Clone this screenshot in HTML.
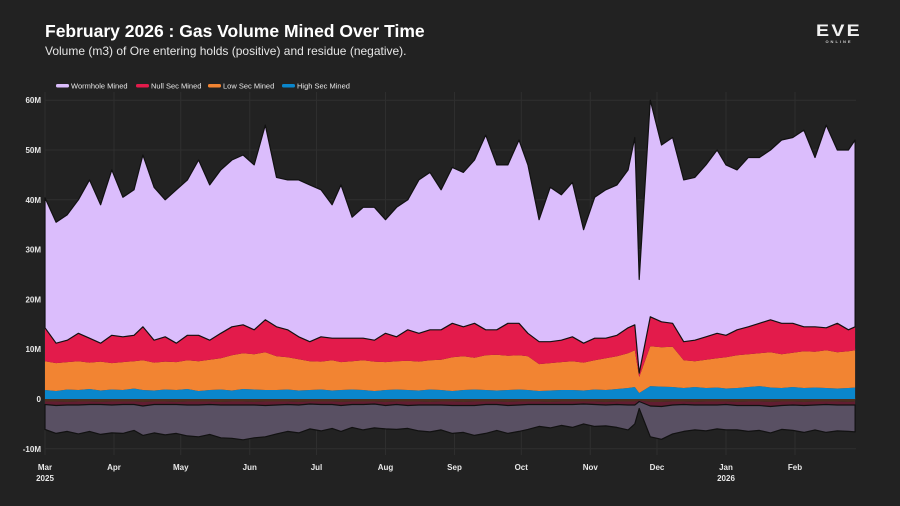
<!DOCTYPE html>
<html><head><meta charset="utf-8">
<style>
html,body{margin:0;padding:0;background:#222222;}
body{width:900px;height:506px;overflow:hidden;font-family:"Liberation Sans",sans-serif;}
#chart{position:absolute;left:0;top:0;}
</style></head>
<body>
<svg id="chart" width="900" height="506" xmlns="http://www.w3.org/2000/svg">
  <rect x="0" y="0" width="900" height="506" fill="#222222"/>
  <text x="45" y="37" fill="#ffffff" font-size="17.5" font-weight="bold">February 2026 : Gas Volume Mined Over Time</text>
  <text x="45" y="55" fill="#e6e6e6" font-size="12">Volume (m3) of Ore entering holds (positive) and residue (negative).</text>
  <g>
    <text x="839" y="36" fill="#f2f2f2" font-size="17" font-weight="bold" text-anchor="middle" letter-spacing="2" transform="scale(1.15,1)" transform-origin="839 30">EVE</text>
    <text x="839" y="43" fill="#cfcfcf" font-size="4" font-weight="bold" text-anchor="middle" letter-spacing="2">ONLINE</text>
  </g>
  <g id="grid"></g>
  <g id="areas"></g>
  <g id="axes"></g>
  <g id="legend"></g>
</svg>
<script>
// day offsets from 1 Mar 2025
const days = [0,5,10,15,20,25,30,35,40,44,49,54,59,64,69,74,79,84,89,94,99,104,109,114,119,124,129,133,138,143,148,153,158,163,168,173,178,183,188,193,198,203,208,213,217,222,227,232,237,242,247,252,257,262,265,267,272,277,282,287,292,297,302,306,311,316,321,326,331,336,341,346,351,356,361,364];
// positive series (millions m3)
const highSec = [1.8,1.6,1.9,1.8,2.0,1.7,1.9,1.8,2.1,1.8,1.7,1.9,1.8,2.0,1.6,1.8,1.9,1.7,2.0,1.9,1.8,1.8,1.9,1.7,1.8,1.9,1.7,1.8,1.9,1.8,1.6,1.8,1.9,1.8,1.7,1.9,1.8,1.6,1.8,1.9,1.8,1.7,1.8,1.9,1.8,1.6,1.7,1.8,1.8,1.7,1.9,1.8,2.0,2.2,2.4,1.2,2.6,2.5,2.4,2.2,2.4,2.2,2.3,2.1,2.2,2.4,2.6,2.3,2.2,2.4,2.2,2.3,2.2,2.1,2.2,2.3];
const lowSec = [5.8,5.6,5.5,5.8,5.3,5.8,5.3,5.6,5.5,6.0,5.6,5.6,5.6,5.8,6.0,6.1,6.3,7.1,7.2,7.1,7.6,6.8,6.5,6.3,5.8,5.6,6.1,5.6,5.7,6.0,5.9,5.6,5.7,5.9,5.8,5.9,6.1,6.8,6.8,6.4,7.0,7.2,6.9,6.9,6.8,5.4,5.5,5.6,5.8,5.6,5.9,6.4,6.6,7.0,7.4,3.2,8.0,7.9,8.1,5.6,5.2,5.7,5.9,6.3,6.6,6.6,6.6,7.1,6.8,6.9,7.4,7.2,7.6,7.3,7.4,7.5];
const nullSec = [6.7,4.0,4.4,5.6,4.9,3.7,5.6,5.1,5.2,6.7,4.5,5.0,3.8,5.0,5.2,3.9,5.0,5.7,5.7,4.9,6.5,5.9,5.5,4.5,3.9,5.0,4.4,4.8,4.6,4.4,4.3,5.8,4.9,6.2,5.7,6.1,6.0,6.8,5.9,6.9,5.1,5.0,6.5,6.4,4.6,4.5,4.3,4.4,4.9,3.9,4.4,4.0,4.2,5.1,5.1,0.8,5.9,5.1,4.7,3.7,4.2,4.6,5.0,4.4,5.1,5.5,6.0,6.5,6.2,5.9,4.9,5.0,4.5,5.8,4.3,4.7];
const wormhole = [26.1,24.3,25.2,26.8,31.8,27.8,33.2,28.0,29.2,34.5,30.7,27.5,30.8,31.2,35.2,31.2,32.8,33.5,34.1,33.1,39.1,30.0,30.1,31.5,31.5,29.5,26.8,30.8,24.3,26.3,26.7,22.8,26.0,26.1,30.8,31.6,28.1,31.3,31.0,32.8,39.1,33.1,31.8,36.8,33.8,24.5,31.0,29.2,31.0,22.8,28.3,29.8,30.2,31.7,37.6,18.8,43.5,35.5,37.3,32.5,32.7,34.5,36.8,34.2,32.1,34.0,33.3,34.1,36.8,37.3,39.5,34.0,40.7,34.8,36.1,37.5];
// negative residue series (millions m3, magnitudes)
const lowResidue = [0.5,0.5,0.6,0.5,0.5,0.6,0.5,0.5,0.5,0.6,0.5,0.5,0.6,0.5,0.5,0.5,0.6,0.5,0.5,0.6,0.5,0.5,0.5,0.6,0.5,0.5,0.5,0.6,0.5,0.5,0.5,0.6,0.5,0.5,0.5,0.6,0.5,0.5,0.6,0.5,0.5,0.5,0.6,0.5,0.5,0.5,0.6,0.5,0.5,0.5,0.5,0.6,0.5,0.5,0.5,0.3,0.6,0.6,0.5,0.5,0.6,0.5,0.5,0.5,0.6,0.5,0.5,0.6,0.5,0.5,0.6,0.5,0.5,0.5,0.6,0.5];
const nullResidue = [0.6,0.8,0.6,0.7,0.6,0.5,0.7,0.6,0.6,0.8,0.6,0.6,0.5,0.7,0.7,0.6,0.6,0.7,0.7,0.6,0.8,0.7,0.6,0.6,0.5,0.6,0.6,0.7,0.6,0.6,0.5,0.7,0.6,0.8,0.7,0.6,0.7,0.8,0.7,0.8,0.6,0.6,0.7,0.7,0.6,0.6,0.5,0.6,0.6,0.5,0.6,0.6,0.6,0.7,0.7,0.2,0.8,0.9,0.7,0.6,0.6,0.7,0.7,0.6,0.7,0.8,0.8,0.9,0.8,0.7,0.7,0.7,0.6,0.7,0.6,0.7];
const wormholeResidue = [5.0,5.6,5.3,5.8,5.4,6.0,5.6,5.8,5.2,5.9,5.7,6.1,5.8,6.2,6.4,6.0,6.6,6.7,7.0,6.6,6.3,5.8,5.4,5.6,5.0,5.3,4.8,5.2,4.6,5.1,4.8,4.7,5.0,4.6,5.2,5.4,5.0,5.6,5.4,6.0,5.8,5.2,5.6,5.3,5.0,4.4,4.7,4.2,4.6,4.0,4.4,4.2,4.6,5.0,3.8,1.4,6.2,6.6,5.8,5.4,5.0,5.2,4.8,5.1,4.9,5.2,5.0,5.3,4.8,5.1,5.4,5.0,5.6,5.2,5.3,5.4];
// axis labels
const yTicks = [-10,0,10,20,30,40,50,60];
const yTickLabels = ["-10M","0","10M","20M","30M","40M","50M","60M"];
const monthDays = [0,31,61,92,122,153,184,214,245,275,306,337];
const monthLabels = ["Mar","Apr","May","Jun","Jul","Aug","Sep","Oct","Nov","Dec","Jan","Feb"];
const yearLabels = ["2025","","","","","","","","","","2026",""];

const NS = "http://www.w3.org/2000/svg";
const X0 = 45, PXD = 750/337, Y0 = 399, PXM = 4.98;
function xScale(d){ return X0 + d*PXD; }
function yScale(v){ return Y0 - v*PXM; }
function mk(tag, attrs, parent){ const e=document.createElementNS(NS,tag); for(const k in attrs) e.setAttribute(k,attrs[k]); parent.appendChild(e); return e; }

const grid = document.getElementById('grid');
const axes = document.getElementById('axes');
yTicks.forEach((t,i)=>{
  const y=yScale(t);
  const gl = mk('line',{x1:X0,x2:856,y1:y,y2:y,stroke:'#2f2f2f','stroke-width':1},grid);
  
  
  const tl = mk('text',{x:41,y:y+3,fill:'#e8e8e8','font-size':8,'font-weight':'bold','text-anchor':'end'},axes);
  tl.textContent = yTickLabels[i];
  
  
});
monthDays.forEach((d,i)=>{
  const x=xScale(d);
  const gl = mk('line',{x1:x,x2:x,y1:92,y2:455,stroke:'#2f2f2f','stroke-width':1},grid);
  
  
  const tl = mk('text',{x:x,y:470,fill:'#e8e8e8','font-size':8,'font-weight':'bold','text-anchor':'middle'},axes);
  tl.textContent = monthLabels[i];
  
  
  if(yearLabels[i]){
    const yl = mk('text',{x:x,y:481,fill:'#e8e8e8','font-size':8,'font-weight':'bold','text-anchor':'middle'},axes);
    yl.textContent = yearLabels[i];
    
    
  }
});

const areas = document.getElementById('areas');
function stackArea(seriesList, sign, colors, names, stroke){
  const n = Math.min(days.length, ...seriesList.map(s=>s.length));
  let base = new Array(n).fill(0);
  seriesList.forEach((s,si)=>{
    const top = base.map((b,i)=>b + s[i]);
    let d='';
    for(let i=0;i<n;i++) d += (i?'L':'M') + xScale(days[i]).toFixed(1)+','+yScale(sign*top[i]).toFixed(1);
    for(let i=n-1;i>=0;i--) d += 'L' + xScale(days[i]).toFixed(1)+','+yScale(sign*base[i]).toFixed(1);
    d+='Z';
    const p = mk('path',{d:d,fill:colors[si],stroke:(stroke && si===seriesList.length-1)?'#111111':'none','stroke-width':1.2,'stroke-linejoin':'round'},areas);
    
    
    base = top;
  });
}
stackArea([highSec,lowSec,nullSec,wormhole],1,['#0a86cc','#f28432','#e31b4b','#dbbdfc'],['high-sec-area','low-sec-area','null-sec-area','wormhole-area'],true);
stackArea([lowResidue,nullResidue,wormholeResidue],-1,['#4e3020','#611d31','#595063'],['low-sec-residue-area','null-sec-residue-area','wormhole-residue-area'],true);

const legend = document.getElementById('legend');
const legItems = [['Wormhole Mined','#dbbdfc',56],['Null Sec Mined','#e31b4b',136],['Low Sec Mined','#f28432',208],['High Sec Mined','#0a86cc',282]];
legItems.forEach(it=>{
  const g = mk('g',{},legend);
  
  
  mk('rect',{x:it[2],y:84,width:13,height:3.5,rx:1.5,fill:it[1]},g);
  const t = mk('text',{x:it[2]+15,y:88.5,fill:'#e8e8e8','font-size':7.5},g);
  t.textContent = it[0];
});
</script>
</body></html>
